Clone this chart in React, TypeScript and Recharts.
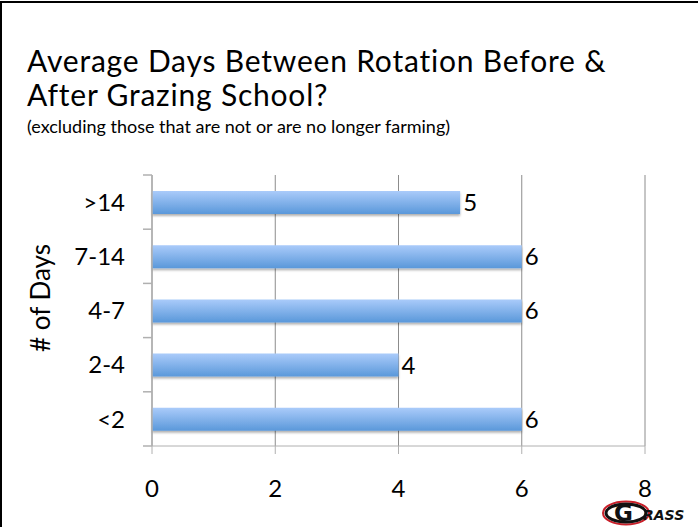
import { Bar, BarChart, CartesianGrid, LabelList, XAxis, YAxis } from 'recharts'

// categories top to bottom, as on the slide
const categories = ['>14', '7-14', '4-7', '2-4', '<2']
const values = [5, 6, 6, 4, 6]
const xTicks = [0, 2, 4, 6, 8]

const data = categories.map((name, i) => ({ name, days: values[i] }))

const W = 698
const H = 527
const PLOT_LEFT = 152
const PLOT_RIGHT = 645
const PLOT_TOP = 175
const PLOT_BOTTOM = 446
const Y_AXIS_W = 100
const X_AXIS_H = 40
const BAND = (PLOT_BOTTOM - PLOT_TOP) / categories.length
const FONT = 'Lato, "Open Sans", sans-serif'

const CategoryTick = (props: any) => {
  const { x, y, payload, index } = props
  return (
    <g>
      <line x1={PLOT_LEFT - 9} x2={PLOT_LEFT} y1={y - BAND / 2} y2={y - BAND / 2} stroke='#b0b0b0' strokeWidth={1.5} />
      {index === categories.length - 1 && (
        <line x1={PLOT_LEFT - 9} x2={PLOT_LEFT} y1={y + BAND / 2} y2={y + BAND / 2} stroke='#b0b0b0' strokeWidth={1.5} />
      )}
      <text x={x} y={y} dy='0.36em' textAnchor='end' fontSize={24} fill='#000' fontFamily={FONT}>
        {payload.value}
      </text>
    </g>
  )
}

const Logo = () => (
  <svg width={96} height={35} style={{ position: 'absolute', left: 601, top: 492 }}>
    <ellipse cx={25} cy={21} rx={23} ry={11.5} fill='#fff' stroke='#c8202a' strokeWidth={2} />
    <ellipse cx={25} cy={21} rx={20} ry={9} fill='none' stroke='#111' strokeWidth={3} />
    <text x={13} y={29} fontSize={23} fontWeight={900} fill='#111' fontFamily='"DejaVu Sans", sans-serif'>
      G
    </text>
    <text x={42} y={28} fontSize={14} fontWeight={900} fontStyle='italic' fill='#111' fontFamily='"DejaVu Sans", sans-serif'>
      RASS
    </text>
  </svg>
)

const App = () => {
  return (
    <div style={{ position: 'fixed', left: 0, top: 0, width: W, height: H, overflow: 'hidden', background: '#fff', fontFamily: FONT }}>
      <div style={{ position: 'absolute', left: 0, top: 1, width: W + 40, height: H + 40, border: '2px solid #000', boxSizing: 'border-box' }} />
      <div style={{ position: 'absolute', left: 27, top: 43, fontSize: 30, lineHeight: '34px', letterSpacing: 0.8, color: '#000' }}>
        Average Days Between Rotation Before &amp;
        <br />
        After Grazing School?
      </div>
      <div style={{ position: 'absolute', left: 27, top: 115, fontSize: 18, color: '#000' }}>
        (excluding those that are not or are no longer farming)
      </div>
      <div
        style={{
          position: 'absolute',
          left: 40,
          top: 298,
          transform: 'translate(-50%, -50%) rotate(-90deg)',
          fontSize: 26,
          whiteSpace: 'nowrap',
          color: '#000',
        }}
      >
        # of Days
      </div>
      <div style={{ position: 'absolute', left: 0, top: 0 }}>
        <BarChart
          width={W}
          height={H}
          data={data}
          layout='vertical'
          barSize={23}
          margin={{ top: PLOT_TOP, right: W - PLOT_RIGHT, bottom: H - PLOT_BOTTOM - X_AXIS_H, left: PLOT_LEFT - Y_AXIS_W }}
        >
          <defs>
            <linearGradient id='barFill' x1='0' y1='0' x2='0' y2='1'>
              <stop offset='0%' stopColor='#aacbfa' />
              <stop offset='100%' stopColor='#5a98da' />
            </linearGradient>
            <filter id='barShadow' x='-5%' y='-20%' width='110%' height='160%'>
              <feDropShadow dx='0' dy='2' stdDeviation='1' floodColor='#000' floodOpacity='0.3' />
            </filter>
          </defs>
          <CartesianGrid horizontal={false} stroke='#8c8c8c' strokeWidth={1} />
          <XAxis
            type='number'
            domain={[0, 8]}
            ticks={xTicks}
            height={X_AXIS_H}
            tickSize={8}
            tickMargin={26}
            stroke='#b0b0b0'
            tick={{ fill: '#000', fontSize: 24, fontFamily: FONT }}
          />
          <YAxis
            type='category'
            dataKey='name'
            width={Y_AXIS_W}
            tickLine={false}
            stroke='#b0b0b0'
            strokeWidth={1.5}
            tick={<CategoryTick />}
            tickMargin={21}
          />
          <Bar dataKey='days' fill='url(#barFill)' filter='url(#barShadow)' isAnimationActive={false}>
            <LabelList dataKey='days' position='right' offset={3} fill='#000' fontSize={24} fontFamily={FONT} />
          </Bar>
        </BarChart>
      </div>
      <Logo />
    </div>
  )
}

export default App
